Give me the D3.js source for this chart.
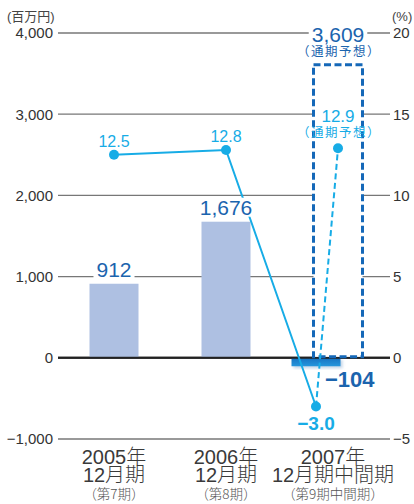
<!DOCTYPE html>
<html>
<head>
<meta charset="utf-8">
<script src="https://cdn.jsdelivr.net/npm/d3@7"></script>
<style>
  body { margin: 0; background: #fff; }
  svg { display: block; font-family: "Liberation Sans", "Noto Sans CJK JP", sans-serif; }
</style>
</head>
<body>
<svg id="chart" width="414" height="504"></svg>
<script>
// Fiscal periods
const periods = ["2005", "2006", "2007"];
const yearLabels = ["2005年", "2006年", "2007年"];
const termLabels = ["12月期", "12月期", "12月期中間期"];
const subLabels = ["（第7期）", "（第8期）", "（第9期中間期）"];

// Operating profit (百万円) and margin (%)
const profit = [912, 1676, -104];
const profitForecast = 3609;
const margin = [12.5, 12.8, -3.0];
const marginForecast = 12.9;

// Axis ticks
const leftTicks = [4000, 3000, 2000, 1000, 0, -1000];
const rightTicks = [20, 15, 10, 5, 0, -5];

const svg = d3.select("#chart");

const y = d3.scaleLinear().domain([-1000, 4000]).range([439, 33]);
const yR = d3.scaleLinear().domain([-5, 20]).range([439, 33]);
const x = d3.scaleBand().domain(periods).range([58, 394]);
const cx = d => x(d) + x.bandwidth() / 2;
const barW = 49;
const interimShift = -22;   // interim bar sits left of the full-year forecast box

const darkBlue = "#1b64ae";
const lightBlue = "#17ace6";

const defs = svg.append("defs");
const grad = defs.append("linearGradient").attr("id", "negGrad")
  .attr("x1", 0).attr("y1", 0).attr("x2", 0).attr("y2", 1);
grad.append("stop").attr("offset", "0%").attr("stop-color", "#1672c2");
grad.append("stop").attr("offset", "100%").attr("stop-color", "#2596dc");
defs.append("filter").attr("id", "soft").append("feGaussianBlur").attr("stdDeviation", 1.5);

// Gridlines
svg.append("g").selectAll("line").data(leftTicks).join("line")
  .attr("x1", 58).attr("x2", 390)
  .attr("y1", d => y(d)).attr("y2", d => y(d))
  .attr("stroke", d => d === 0 ? "#222" : "#777")
  .attr("stroke-width", d => d === 0 ? 2 : 1.3);

// Left axis labels
const leftAxis = d3.axisLeft(y).tickValues(leftTicks).tickSize(0).tickPadding(0)
  .tickFormat(d3.format(","));
svg.append("g").attr("transform", "translate(53,0)").call(leftAxis)
  .call(g => g.select(".domain").remove())
  .call(g => g.selectAll("text").attr("font-size", 15).attr("fill", "#333")
    .attr("font-family", "Liberation Sans, sans-serif"));

// Right axis labels
const rightAxis = d3.axisRight(yR).tickValues(rightTicks).tickSize(0).tickPadding(0);
svg.append("g").attr("transform", "translate(393,0)").call(rightAxis)
  .call(g => g.select(".domain").remove())
  .call(g => g.selectAll("text").attr("font-size", 15).attr("fill", "#333")
    .attr("font-family", "Liberation Sans, sans-serif"));

// Unit labels
svg.append("text").attr("x", 7).attr("y", 21).attr("font-size", 13).attr("fill", "#444").text("(百万円)");
svg.append("text").attr("x", 392).attr("y", 21).attr("font-size", 13).attr("fill", "#444").text("(%)");

// Bars
const bars = periods.map((p, i) => ({ p, v: profit[i], i }));
const posBars = bars.filter(d => d.v >= 0);
const negBars = bars.filter(d => d.v < 0);

svg.append("g").selectAll("rect").data(posBars).join("rect")
  .attr("x", d => cx(d.p) - barW / 2)
  .attr("width", barW)
  .attr("y", d => y(d.v))
  .attr("height", d => y(0) - y(d.v))
  .attr("fill", "#aec0e2");

// Negative interim bar with a soft shadow
const negG = svg.append("g");
negG.selectAll("rect.shadow").data(negBars).join("rect").attr("class", "shadow")
  .attr("x", d => cx(d.p) + interimShift - barW / 2 + 2)
  .attr("width", barW)
  .attr("y", y(0) + 2)
  .attr("height", d => y(d.v) - y(0))
  .attr("fill", "#9ab8d8").attr("opacity", 0.6).attr("filter", "url(#soft)");
negG.selectAll("rect.bar").data(negBars).join("rect").attr("class", "bar")
  .attr("x", d => cx(d.p) + interimShift - barW / 2)
  .attr("width", barW)
  .attr("y", y(0))
  .attr("height", d => y(d.v) - y(0))
  .attr("fill", "url(#negGrad)");

// Redraw zero line over the bars
svg.append("line").attr("x1", 58).attr("x2", 390)
  .attr("y1", y(0)).attr("y2", y(0)).attr("stroke", "#222").attr("stroke-width", 2);

// Forecast box (dashed, white inside so gridlines stop at its edges)
svg.append("rect")
  .attr("x", cx("2007") - barW / 2)
  .attr("width", barW)
  .attr("y", y(profitForecast))
  .attr("height", y(0) - y(profitForecast) - 1)
  .attr("fill", "#fff")
  .attr("stroke", "#1568b8")
  .attr("stroke-width", 3)
  .attr("stroke-dasharray", "7,3.5");

// Margin line
const pts = periods.map((p, i) => [cx(p) + (i === 2 ? interimShift : 0), yR(margin[i])]);
const fPt = [cx("2007"), yR(marginForecast)];
const line = d3.line();
svg.append("path").attr("d", line(pts)).attr("fill", "none")
  .attr("stroke", lightBlue).attr("stroke-width", 2);
svg.append("path").attr("d", line([pts[2], fPt])).attr("fill", "none")
  .attr("stroke", lightBlue).attr("stroke-width", 2).attr("stroke-dasharray", "6,3.5");
svg.append("g").selectAll("circle").data(pts.concat([fPt])).join("circle")
  .attr("cx", d => d[0]).attr("cy", d => d[1]).attr("r", 5).attr("fill", lightBlue);

// Value label helper, optionally with a white backing
function label(txt, xPos, yPos, opts) {
  const t = svg.append("text").attr("x", xPos).attr("y", yPos)
    .attr("text-anchor", opts.anchor || "middle")
    .attr("font-size", opts.size).attr("fill", opts.color)
    .attr("font-weight", opts.weight || "normal")
    .attr("font-family", opts.family || "Liberation Sans, Noto Sans CJK JP, sans-serif")
    .text(txt);
  if (opts.spacing) t.attr("letter-spacing", opts.spacing);
  if (opts.bg) {
    const b = t.node().getBBox();
    svg.insert("rect", () => t.node())
      .attr("x", b.x - 3).attr("y", b.y + 2).attr("width", b.width + 6).attr("height", b.height - 4)
      .attr("fill", "#fff");
  }
  return t;
}

const fmt = d3.format(",");
// Profit labels
posBars.forEach(d => label(fmt(d.v), cx(d.p), y(d.v) - 7, { size: 21, color: darkBlue, bg: true }));
negBars.forEach(d => label("−" + fmt(Math.abs(d.v)), cx(d.p) + interimShift + 9, y(d.v) + 21,
  { size: 22, color: darkBlue, weight: "bold", anchor: "start" }));
label(fmt(profitForecast), cx("2007"), y(profitForecast) - 23, { size: 21, color: darkBlue, bg: true });
label("（通期予想）", cx("2007") + 1, y(profitForecast) - 9,
  { size: 12.5, color: darkBlue, family: "Noto Sans CJK JP", spacing: 1.5 });

// Margin labels
margin.forEach((m, i) => {
  if (m >= 0) {
    label(m.toFixed(1), pts[i][0], pts[i][1] - 8, { size: 16, color: lightBlue });
  } else {
    label("−" + Math.abs(m).toFixed(1), pts[i][0], pts[i][1] + 23, { size: 19, color: lightBlue, weight: "bold" });
  }
});
label(marginForecast.toFixed(1), fPt[0], fPt[1] - 26, { size: 17, color: lightBlue });
label("（通期予想）", fPt[0] + 1, fPt[1] - 11,
  { size: 12.5, color: lightBlue, family: "Noto Sans CJK JP", spacing: 1.5 });

// Category labels
const cat = svg.append("g").attr("text-anchor", "middle").attr("fill", "#3a3a3a");
periods.forEach((p, i) => {
  const c = cx(p) + (i === 2 ? -5 : 0);
  cat.append("text").attr("x", c).attr("y", 464).attr("font-size", 20).attr("font-weight", 300).text(yearLabels[i]);
  cat.append("text").attr("x", c).attr("y", 482).attr("font-size", 20).attr("font-weight", 300).text(termLabels[i]);
  cat.append("text").attr("x", c).attr("y", 499).attr("font-size", 13.5).attr("fill", "#555")
    .attr("font-weight", 300).attr("font-family", "Noto Sans CJK JP").text(subLabels[i]);
});
</script>
</body>
</html>
